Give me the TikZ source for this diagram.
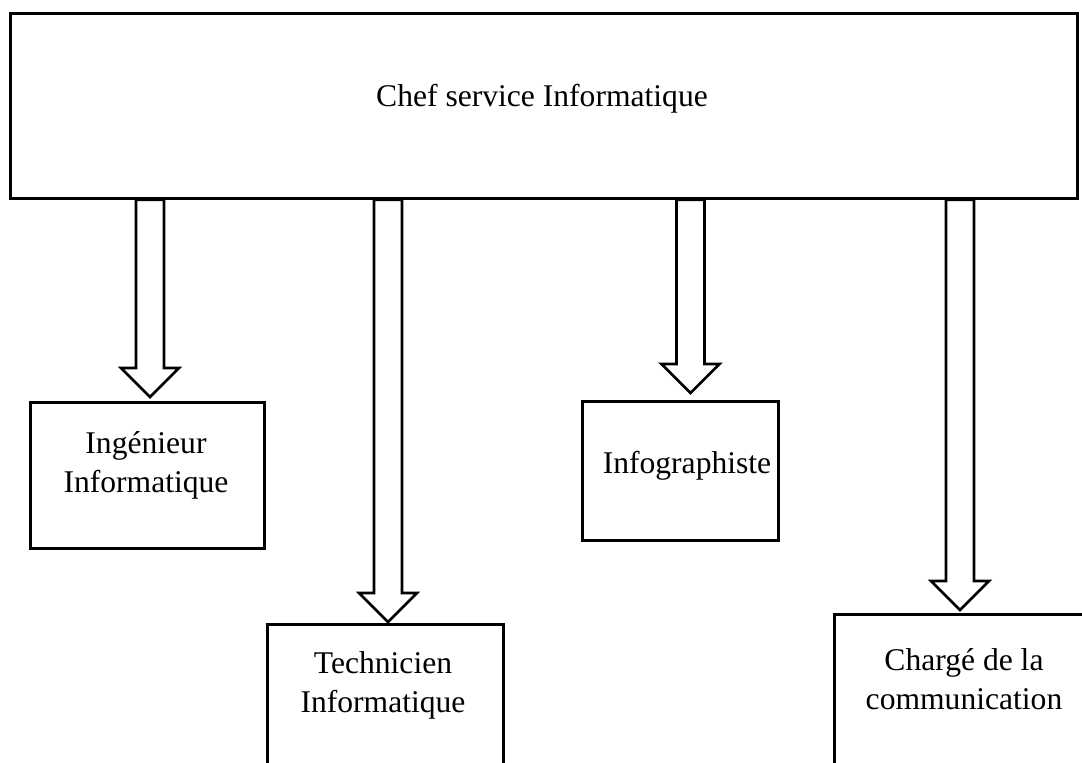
\documentclass[tikz,border=0pt]{standalone}
\usepackage{fontspec}
\setmainfont{Liberation Serif}
\usetikzlibrary{positioning,calc}

\begin{document}
\begin{tikzpicture}[x=1pt,y=-1pt,
  boite/.style={draw,line width=2.8pt,inner sep=0pt,anchor=north west},
  texte/.style={font=\fontsize{31.6}{39}\selectfont,align=center,inner sep=0pt,anchor=base},
  fleche/.style={draw,line width=2.8pt,fill=white,line join=miter}]
\useasboundingbox (0,0) rectangle (1082,763);
\clip (0,0) rectangle (1082,763);
\node[boite,minimum width=1067pt,minimum height=185pt] (chef) at (9,12) {};
\node[boite,minimum width=234pt,minimum height=146pt] (ing) at (29,401) {};
\node[boite,minimum width=236pt,minimum height=200pt] (tech) at (266,623) {};
\node[boite,minimum width=196pt,minimum height=139pt] (info) at (581,400) {};
\node[boite,minimum width=300pt,minimum height=200pt] (charge) at (833,613) {};
\node[texte] (chefTxt) at (542,106) {Chef service Informatique};
\node[texte] (ingTxt) at (146,492) {Ingénieur\\Informatique};
\node[texte] (techTxt) at (383,712) {Technicien\\Informatique};
\node[texte] (infoTxt) at (687,473) {Infographiste};
\node[texte] (chargeTxt) at (964,709) {Chargé de la\\communication};
\foreach \x/\cible/\ecart in {150/ing/4,388/tech/1,690.5/info/7,960/charge/3}{
  \coordinate (c) at (\x,0);
  \draw[fleche] ($(c |- chef.south)+(-14pt,0)$)
    -- ($(c |- \cible.north)+(-14pt,\ecart pt+29pt)$)
    -- ($(c |- \cible.north)+(-29pt,\ecart pt+29pt)$)
    -- ($(c |- \cible.north)+(0,\ecart pt)$)
    -- ($(c |- \cible.north)+(29pt,\ecart pt+29pt)$)
    -- ($(c |- \cible.north)+(14pt,\ecart pt+29pt)$)
    -- ($(c |- chef.south)+(14pt,0)$) -- cycle;
}
\end{tikzpicture}
\end{document}
